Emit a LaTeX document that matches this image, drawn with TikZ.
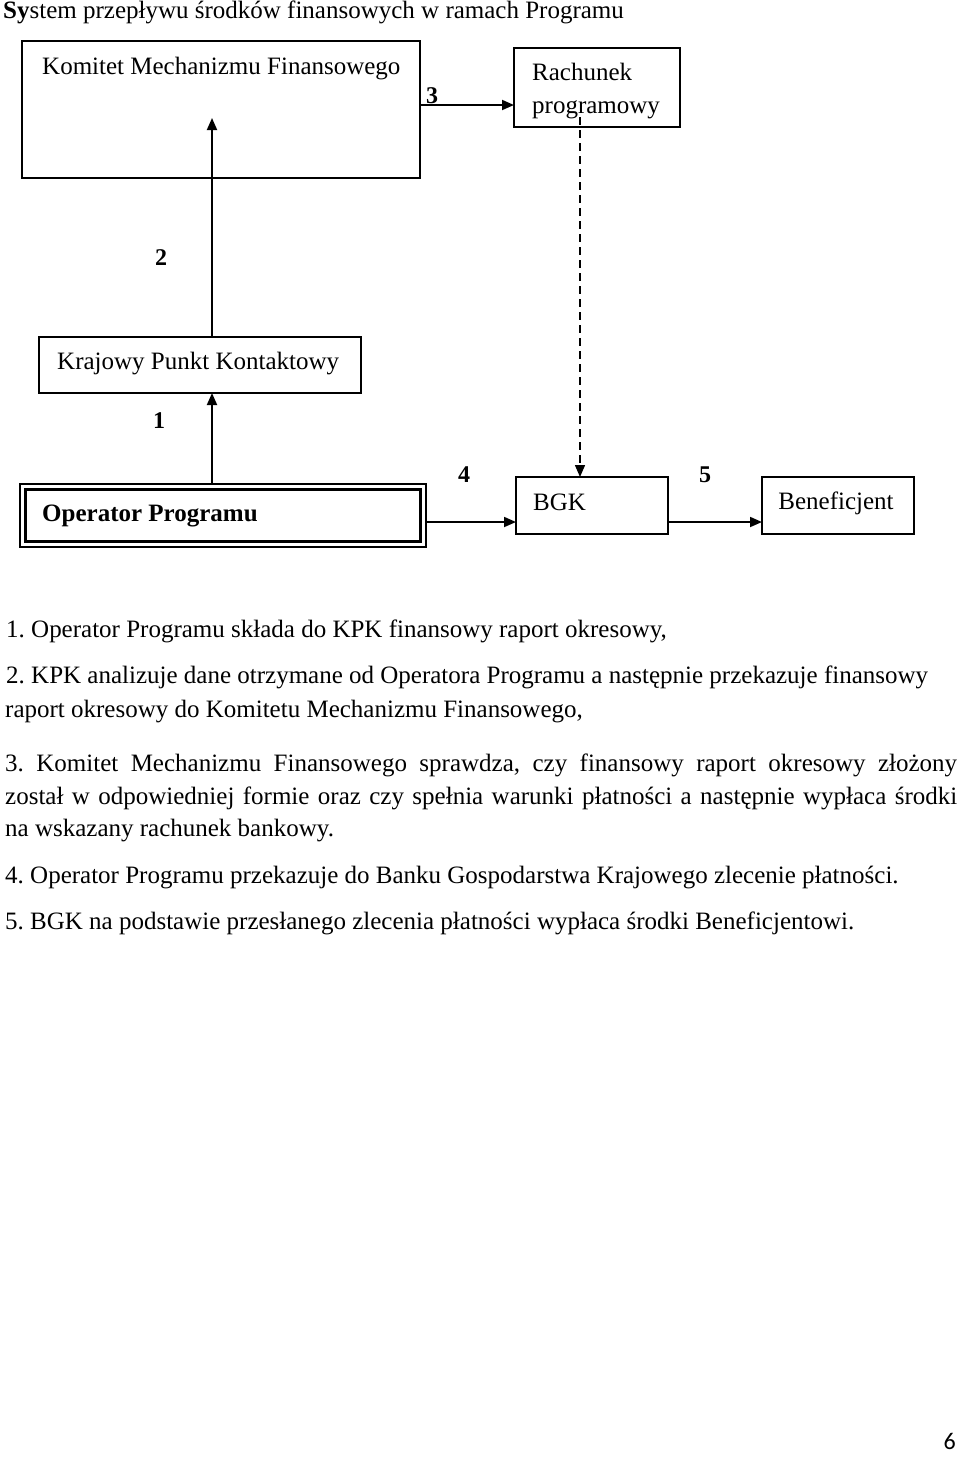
\documentclass[tikz,border=0pt]{standalone}
\usepackage{fontspec}
\setmainfont{Liberation Serif}
\newfontfamily\calib{Carlito}
\usetikzlibrary{arrows.meta}
\frenchspacing
\begin{document}
\begin{tikzpicture}[x=1pt,y=-1pt,
  boxline/.style={draw=black,line width=1.8pt},
  flow/.style={line width=1.8pt,-{Triangle[length=12pt,width=10pt]}},
  dflow/.style={line width=1.4pt,dash pattern=on 8pt off 5pt,-{Triangle[length=12pt,width=10pt]}},
  txt/.style={inner sep=0pt,anchor=base west,font=\fontsize{25}{30}\selectfont\frenchspacing},
  num/.style={inner sep=0pt,anchor=base,font=\fontsize{24}{28}\selectfont\bfseries},
]
\useasboundingbox[fill=white] (0,0) rectangle (960,1460);

% title
\node[txt] (title) at (3,18) {\textbf{Sy}stem przepływu środków finansowych w ramach Programu};

% boxes
\draw[boxline] (22,41) rectangle (420,178);
\coordinate (kmfE) at (420,105);
\node[txt] (kmf) at (42,74) {Komitet Mechanizmu Finansowego};

\draw[boxline] (514,48) rectangle (680,127);
\coordinate (rpW) at (514,105);
\node[txt] (rp1) at (532,80) {Rachunek};
\node[txt] (rp2) at (532,113) {programowy};
\coordinate (rpS) at (580,117);

\draw[boxline] (39,337) rectangle (361,393);
\coordinate (kpkN) at (212,337);
\coordinate (kpkS) at (212,393);
\node[txt] (kpk) at (57,369) {Krajowy Punkt Kontaktowy};
\coordinate (kmfIn) at (212,118);

\draw[draw=black,line width=1.3pt] (20,484) rectangle (426,547);
\draw[draw=black,line width=2.4pt] (25.5,489.5) rectangle (420.5,541.5);
\coordinate (opN) at (212,484);
\coordinate (opE) at (426,522);
\node[txt,font=\fontsize{25}{30}\selectfont\bfseries] (op) at (42,521) {Operator Programu};

\draw[boxline] (516,477) rectangle (668,534);
\coordinate (bgkW) at (516,522);
\coordinate (bgkE) at (668,522);
\coordinate (bgkN) at (580,477);
\node[txt] (bgk) at (533,510) {BGK};

\draw[boxline] (762,477) rectangle (914,534);
\coordinate (benW) at (762,522);
\node[txt,anchor=base] (ben) at (836,509) {Beneficjent};

% connectors
\draw[flow] (kmfE) -- (rpW);
\draw[flow] (kpkN) -- (kmfIn);
\draw[flow] (opN) -- (kpkS);
\draw[flow] (opE) -- (bgkW);
\draw[flow] (bgkE) -- (benW);
\draw[dflow] (rpS) -- (bgkN);

% labels
\node[num] (l3) at (432,103) {3};
\node[num] (l2) at (161,265) {2};
\node[num] (l1) at (159,428) {1};
\node[num] (l4) at (464,482) {4};
\node[num] (l5) at (705,482) {5};

% text
\node[txt] (t1) at (6,637) {1. Operator Programu składa do KPK finansowy raport okresowy,};
\node[txt] (t2) at (6,683) {2. KPK analizuje dane otrzymane od Operatora Programu a następnie przekazuje finansowy};
\node[txt] (t3) at (5,717) {raport okresowy do Komitetu Mechanizmu Finansowego,};
\node[txt] (t4) at (5,771) {\makebox[952pt][s]{3. Komitet Mechanizmu Finansowego sprawdza, czy finansowy raport okresowy złożony}};
\node[txt] (t5) at (5,804) {\makebox[952pt][s]{został w odpowiedniej formie oraz czy spełnia warunki płatności a następnie wypłaca środki}};
\node[txt] (t6) at (5,836) {na wskazany rachunek bankowy.};
\node[txt] (t7) at (5,883) {4. Operator Programu przekazuje do Banku Gospodarstwa Krajowego zlecenie płatności.};
\node[txt] (t8) at (5,929) {5. BGK na podstawie przesłanego zlecenia płatności wypłaca środki Beneficjentowi.};

\node[inner sep=0pt,anchor=base east,font=\calib\fontsize{24}{28}\selectfont] (pg) at (956,1449) {6};
\end{tikzpicture}
\end{document}
